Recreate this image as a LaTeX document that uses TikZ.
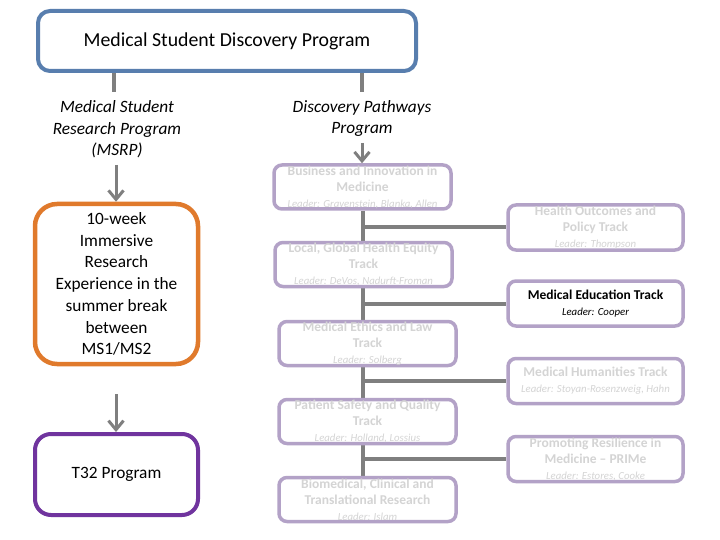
\documentclass[tikz,border=0pt]{standalone}
\usepackage{fontspec}
\setmainfont{Carlito}
\usetikzlibrary{arrows.meta,backgrounds}
\definecolor{topblue}{RGB}{88,126,174}
\definecolor{orangeb}{RGB}{224,122,44}
\definecolor{purpleb}{RGB}{112,52,158}
\definecolor{lavender}{RGB}{179,162,199}
\definecolor{conngray}{RGB}{127,127,127}
\definecolor{fadetext}{RGB}{212,212,212}
\newcommand\leadertext[1]{{\fontsize{10.8}{16}\selectfont\mdseries\itshape Leader: #1}}
\tikzset{
  lav/.style={draw=lavender, line width=3.5pt, rounded corners=8pt, fill=white,
    minimum width=177pt, minimum height=44pt, inner sep=0pt, align=center,
    text=fadetext, font=\fontsize{13.5}{16}\selectfont\bfseries},
  lavr/.style={lav, minimum width=175pt, minimum height=45pt},
  conn/.style={draw=conngray, line width=4pt},
  arr/.style={draw=conngray, line width=3pt, -{Straight Barb[length=9pt,width=15pt]}},
  bigbox/.style={line width=4.5pt, fill=white, inner sep=0pt, align=center,
    minimum width=163pt, font=\fontsize{17.3}{21.7}\selectfont},
  itlabel/.style={align=center, inner sep=0pt, font=\fontsize{17.3}{21.5}\selectfont\itshape}
}
\begin{document}
\begin{tikzpicture}[x=1pt,y=-1pt]
\useasboundingbox (0,0) rectangle (720,540);

\node[draw=topblue, line width=4pt, rounded corners=12pt, fill=white,
  minimum width=378pt, minimum height=60pt, inner sep=0pt,
  font=\fontsize{19.8}{22}\selectfont] (top) at (227,41) {Medical Student Discovery Program};

\node[itlabel] (msrp) at (117,129.5) {Medical Student\\Research Program\\(MSRP)};
\node[itlabel] (dpp) at (362,118.5) {Discovery Pathways\\Program};

\node[bigbox, draw=orangeb, rounded corners=22pt, minimum height=160pt] (imm) at (116.5,284)
  {10-week\\Immersive\\Research\\Experience in the\\summer break\\between\\MS1/MS2};
\node[bigbox, draw=purpleb, line width=4pt, rounded corners=16pt, minimum height=81pt] (t32) at (116.5,474.5)
  {T32 Program};

\node[lav] (bus) at (362.5,187) {Business and Innovation in\\Medicine\\\leadertext{Gravenstein, Blanka, Allen}};
\node[lav] (loc) at (363.5,264.5) {Local, Global Health Equity\\Track\\\leadertext{DeVos, Nadurft-Froman}};
\node[lav] (eth) at (367.5,343.5) {Medical Ethics and Law\\Track\\\leadertext{Solberg}};
\node[lav] (pat) at (367.5,421.5) {Patient Safety and Quality\\Track\\\leadertext{Holland, Lossius}};
\node[lav] (bio) at (367.5,499.5) {Biomedical, Clinical and\\Translational Research\\\leadertext{Islam}};

\node[lavr] (ho) at (595.5,227.5) {Health Outcomes and\\Policy Track\\\leadertext{Thompson}};
\node[lavr, text=black] (med) at (595.5,303.5) {Medical Education Track\\\leadertext{Cooper}};
\node[lavr] (hum) at (595.5,381) {Medical Humanities Track\\\leadertext{Stoyan-Rosenzweig, Hahn}};
\node[lavr] (prime) at (595.5,459) {Promoting Resilience in\\Medicine -- PRIMe\\\leadertext{Estores, Cooke}};

\coordinate (c1) at (114,92);
\coordinate (c2) at (362,92);
\coordinate (a1) at (116,165);
\coordinate (a2) at (116,394);
\coordinate (a3) at (362,143);
\coordinate (sp) at (363,0);

\begin{scope}[on background layer]
  \fill[white] (0,0) rectangle (720,540);
  \draw[conn] (top.south -| c1) -- (c1);
  \draw[conn] (top.south -| c2) -- (c2);
  \draw[conn] (bus.south -| sp) -- (bio.north -| sp);
  \draw[conn] (ho.west -| sp) -- (ho.west);
  \draw[conn] (med.west -| sp) -- (med.west);
  \draw[conn] (hum.west -| sp) -- (hum.west);
  \draw[conn] (prime.west -| sp) -- (prime.west);
\end{scope}

\draw[arr] (a1) -- (imm.north -| a1);
\draw[arr] (a2) -- (t32.north -| a2);
\draw[arr] (a3) -- (bus.north -| a3);
\end{tikzpicture}
\end{document}
